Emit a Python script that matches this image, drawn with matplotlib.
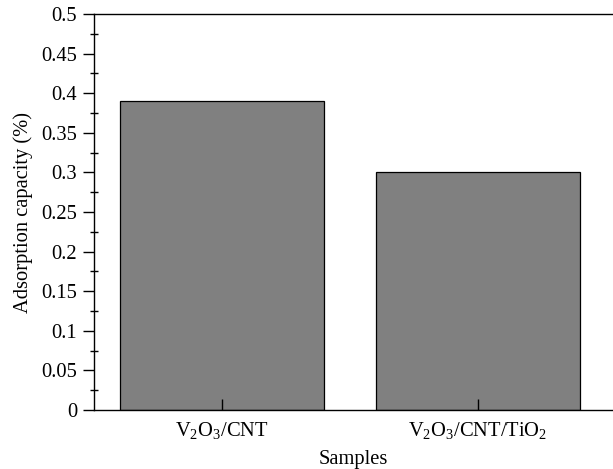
import matplotlib
matplotlib.use("Agg")
import matplotlib.pyplot as plt
from matplotlib.ticker import MultipleLocator

# donnees
echantillons = [r"V$_2$O$_3$/CNT", r"V$_2$O$_3$/CNT/TiO$_2$"]
capacite = [0.39, 0.30]

plt.rcParams["font.family"] = ["Liberation Serif", "DejaVu Serif"]
plt.rcParams["mathtext.fontset"] = "custom"
plt.rcParams["mathtext.rm"] = "Liberation Serif"
plt.rcParams["mathtext.it"] = "Liberation Serif:italic"

taille = 14.8
W, H = 613, 469
fig = plt.figure(figsize=(W / 100, H / 100), dpi=100)
ax = fig.add_axes([94 / W, (H - 410) / H, (W - 94) / W, (410 - 14) / H])

x = range(len(echantillons))
ax.bar(x, capacite, width=0.8, color="#808080", edgecolor="black", linewidth=0.9)

ax.set_xlim(-0.5, 1.527)
ax.set_ylim(0, 0.5)
ax.set_xticks(list(x))
ax.set_xticklabels(echantillons, fontsize=taille)
ax.yaxis.set_major_locator(MultipleLocator(0.05))
ax.yaxis.set_minor_locator(MultipleLocator(0.025))
ax.set_yticklabels(["0" if abs(v) < 1e-9 else f"{v:g}" for v in ax.get_yticks()], fontsize=taille)

ax.tick_params(axis="y", which="major", direction="out", length=8, width=1, pad=4)
ax.tick_params(axis="y", which="minor", direction="inout", length=6, width=1)
ax.tick_params(axis="x", which="major", direction="in", length=8, width=1, pad=7)

ax.spines["right"].set_visible(False)
for s in ["left", "top", "bottom"]:
    ax.spines[s].set_linewidth(1)

ax.set_xlabel("Samples", fontsize=taille, labelpad=7)
ax.set_ylabel("Adsorption capacity (%)", fontsize=taille, labelpad=6)

fig.savefig("out.png", dpi=100)
